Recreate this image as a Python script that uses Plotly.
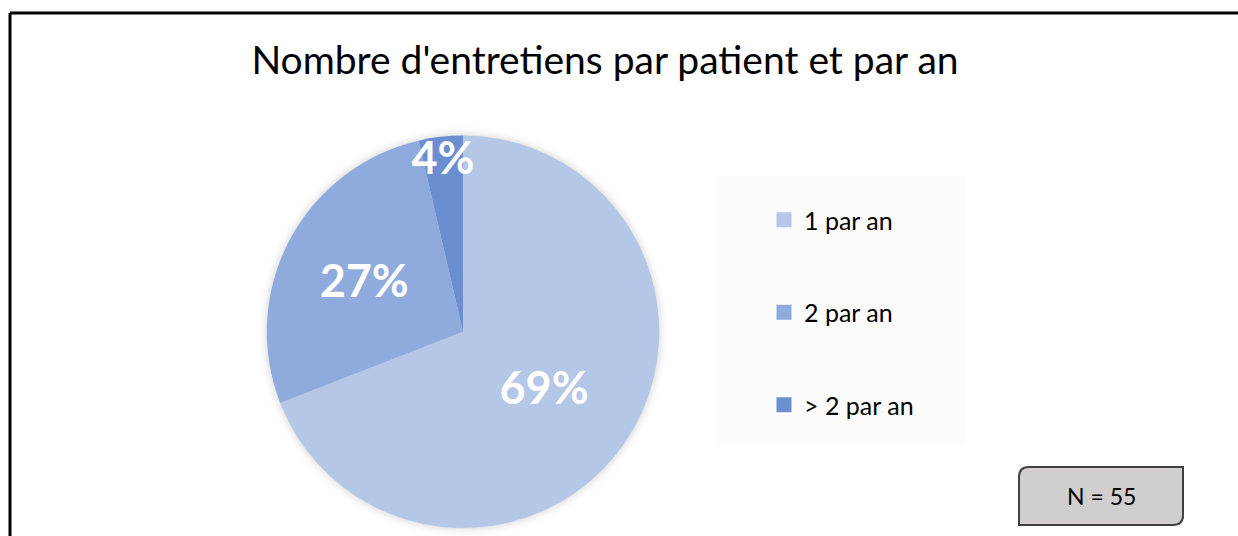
import plotly.graph_objects as go

TITLE = "Nombre d'entretiens par patient et par an"
LABELS = ["1 par an", "2 par an", "> 2 par an"]
COUNTS = [38, 15, 2]  # N = 55
COLORS = ["#B4C7E7", "#8FAADC", "#6A8ED0"]
N_TEXT = "N = 55"

W, H = 1238, 536
FONT = "Lato, Calibri, sans-serif"

# pie placement (paper fractions)
PIE_X = [0.174, 0.574]
PIE_Y = [0.015, 0.747]
cx, cy = sum(PIE_X) / 2, sum(PIE_Y) / 2
rad = (PIE_Y[1] - PIE_Y[0]) * H / 2

fig = go.Figure()

# soft shadow around the pie
for i, a in enumerate([0.035, 0.025, 0.018, 0.012, 0.007]):
    d = 1 + i * 2
    fig.add_shape(type="circle", xref="paper", yref="paper", layer="below",
                  xsizemode="pixel", ysizemode="pixel", xanchor=cx, yanchor=cy,
                  x0=-rad - d, x1=rad + d, y0=-rad - d, y1=rad + d,
                  fillcolor=f"rgba(0,0,0,{a})", line=dict(width=0))

fig.add_trace(go.Pie(
    labels=LABELS,
    values=COUNTS,
    sort=False,
    direction="clockwise",
    rotation=0,
    marker=dict(colors=COLORS, line=dict(width=0)),
    texttemplate="%{percent:.0%}",
    textposition="inside",
    insidetextorientation="horizontal",
    textfont=dict(family=FONT, size=45, color="white", weight="bold"),
    domain=dict(x=PIE_X, y=PIE_Y),
    showlegend=False,
    hoverinfo="label+percent",
))

# legend entries (spaced like the original)
for lab, col in zip(LABELS, COLORS):
    fig.add_trace(go.Scatter(
        x=[None], y=[None], mode="markers", name=lab,
        marker=dict(symbol="square", size=15, color=col),
        legendgroup=lab,
    ))

# outer frame (top and left edges)
fig.add_shape(type="line", xref="paper", yref="paper",
              x0=10 / W, x1=1, y0=1 - 13 / H, y1=1 - 13 / H,
              line=dict(color="black", width=3))
fig.add_shape(type="line", xref="paper", yref="paper",
              x0=10 / W, x1=10 / W, y0=0, y1=1 - 13 / H,
              line=dict(color="black", width=3))

# legend background
fig.add_shape(type="rect", xref="paper", yref="paper", layer="below",
              x0=716 / W, x1=966 / W, y0=1 - 446 / H, y1=1 - 176 / H,
              fillcolor="#FCFCFC", line=dict(width=0))

# N box with diagonal rounded corners
x0, x1, y0, y1, r = 1019 / W, 1183 / W, 1 - 525 / H, 1 - 467 / H, 10
rx, ry = r / W, r / H
path = (f"M {x0 + rx},{y1} L {x1},{y1} L {x1},{y0 + ry} "
        f"Q {x1},{y0} {x1 - rx},{y0} L {x0},{y0} L {x0},{y1 - ry} "
        f"Q {x0},{y1} {x0 + rx},{y1} Z")
fig.add_shape(type="path", xref="paper", yref="paper", path=path,
              fillcolor="#D0CECE", line=dict(color="#404040", width=2))
fig.add_annotation(text=N_TEXT, xref="paper", yref="paper",
                   x=(x0 + x1) / 2, y=(y0 + y1) / 2, showarrow=False,
                   xanchor="center", yanchor="middle",
                   font=dict(family=FONT, size=23, color="black"))

fig.update_layout(
    width=W, height=H,
    paper_bgcolor="white",
    plot_bgcolor="rgba(0,0,0,0)",
    margin=dict(l=0, r=0, t=0, b=0),
    font=dict(family=FONT, color="black"),
    uniformtext=dict(minsize=45, mode="show"),
    title=dict(text=TITLE, x=605 / W, xanchor="center", y=1 - 60 / H, yanchor="middle",
               font=dict(family=FONT, size=39, color="black")),
    xaxis=dict(visible=False, domain=[0.8, 0.81]),
    yaxis=dict(visible=False, domain=[0.9, 0.91]),
    legend=dict(
        x=764 / W, y=1 - 197 / H, xanchor="left", yanchor="top",
        bgcolor="rgba(0,0,0,0)", tracegroupgap=57,
        font=dict(family=FONT, size=25, color="black"),
        itemwidth=30,
    ),
)

fig.write_html("out.html", config={"displayModeBar": False},
               post_script="document.body.style.margin='0';document.body.style.overflow='hidden';")
